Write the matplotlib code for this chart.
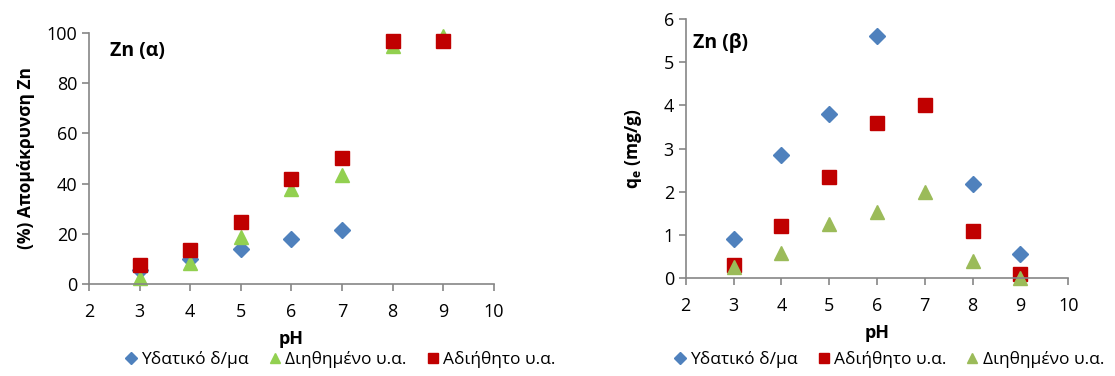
import numpy as np
import matplotlib.pyplot as plt

plt.rcParams['font.family'] = ['Open Sans', 'DejaVu Sans']

ph = [3, 4, 5, 6, 7, 8, 9]

# (a) % removal
rem_water = [5.5, 10, 14, 18, 21.4, np.nan, np.nan]
rem_digested = [2.5, 8.5, 18.5, 38, 43.4, 94.7, 99]
rem_undigested = [7.7, 13.7, 24.8, 42, 50, 97, 97]

# (b) qe (mg/g)
qe_water = [0.89, 2.84, 3.79, 5.6, np.nan, 2.17, 0.55]
qe_undigested = [0.29, 1.2, 2.35, 3.6, 4.0, 1.09, 0.08]
qe_digested = [0.26, 0.57, 1.26, 1.53, 1.98, 0.39, 0.0]

lab_water = 'Υδατικό δ/μα'
lab_dig = 'Διηθημένο υ.α.'
lab_undig = 'Αδιήθητο υ.α.'

blue = '#4F81BD'
red = '#C00000'
green_a = '#92D050'
green_b = '#9BBB59'
spine_col = '#868686'

fig = plt.figure(figsize=(11.15, 3.76), dpi=100)
ax1 = fig.add_axes([0.0798, 0.245, 0.363, 0.667])
ax2 = fig.add_axes([0.615, 0.261, 0.343, 0.688])


def style(ax):
    for s in ['top', 'right']:
        ax.spines[s].set_visible(False)
    for s in ['left', 'bottom']:
        ax.spines[s].set_color(spine_col)
        ax.spines[s].set_linewidth(1.2)
    ax.tick_params(axis='both', colors=spine_col, labelcolor='black', labelsize=13,
                   length=5, width=1.2)
    ax.tick_params(axis='x', pad=9)
    ax.set_xlim(2, 10)
    ax.set_xticks(range(2, 11))
    ax.set_xlabel('pH', fontsize=13, fontweight='bold', labelpad=6)


ax1.plot(ph, rem_water, 'D', color=blue, ms=8, label=lab_water, clip_on=False)
ax1.plot(ph, rem_digested, '^', color=green_a, ms=10, label=lab_dig, clip_on=False)
ax1.plot(ph, rem_undigested, 's', color=red, ms=9.5, label=lab_undig, clip_on=False)
style(ax1)
ax1.set_ylim(0, 100)
ax1.set_yticks(range(0, 101, 20))
ax1.set_ylabel('(%) Απομάκρυνση Zn', fontsize=12.5, fontweight='bold', labelpad=8)
ax1.text(0.052, 0.93, 'Zn (α)', transform=ax1.transAxes, fontsize=14,
         fontweight='bold', va='center')
h, l = ax1.get_legend_handles_labels()
fig.legend(h, l, loc='center', bbox_to_anchor=(0.304, 0.045), ncol=3, frameon=False,
           fontsize=12.5, handletextpad=0.1, columnspacing=1.0, handlelength=1.0,
           markerscale=0.75)

ax2.plot(ph, qe_water, 'D', color=blue, ms=8, label=lab_water, clip_on=False)
ax2.plot(ph, qe_undigested, 's', color=red, ms=9.5, label=lab_undig, clip_on=False)
ax2.plot(ph, qe_digested, '^', color=green_b, ms=10, label=lab_dig, clip_on=False)
style(ax2)
ax2.set_ylim(0, 6)
ax2.set_yticks(range(0, 7))
ax2.set_ylabel('q$_\\mathregular{e}$ (mg/g)', fontsize=12.5, fontweight='bold', labelpad=14)
ax2.text(0.018, 0.907, 'Zn (β)', transform=ax2.transAxes, fontsize=14,
         fontweight='bold', va='center')
h, l = ax2.get_legend_handles_labels()
fig.legend(h, l, loc='center', bbox_to_anchor=(0.796, 0.045), ncol=3, frameon=False,
           fontsize=12.5, handletextpad=0.1, columnspacing=1.0, handlelength=1.0,
           markerscale=0.75)

fig.savefig('out.png', dpi=100)
